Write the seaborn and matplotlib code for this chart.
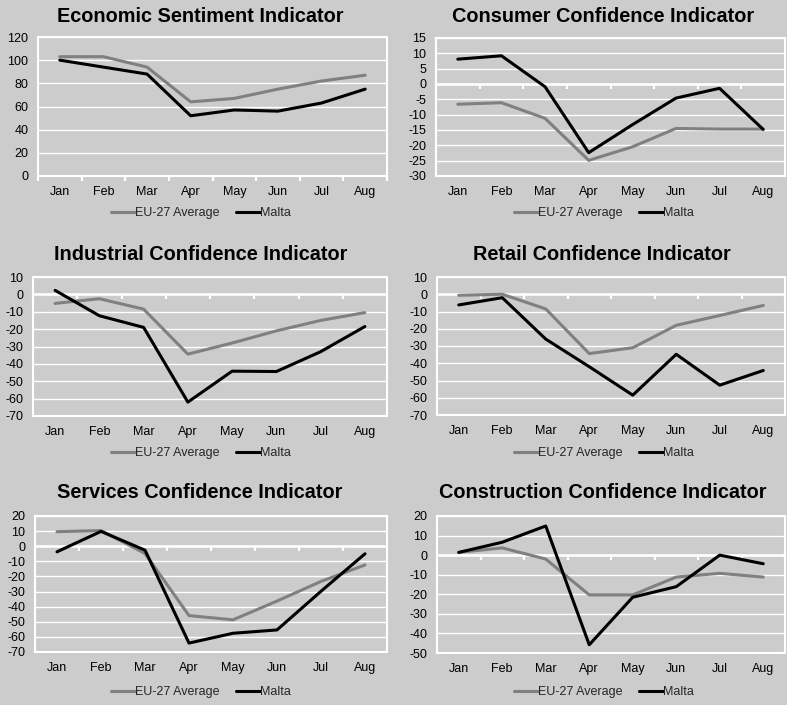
import numpy as np
import pandas as pd
import matplotlib
matplotlib.use("Agg")
import matplotlib.pyplot as plt
from matplotlib.path import Path
import seaborn as sns

sns.set_theme(style="white")
plt.rcParams['font.family'] = ['Liberation Sans', 'DejaVu Sans']

months = ["Jan", "Feb", "Mar", "Apr", "May", "Jun", "Jul", "Aug"]
series_names = ["EU-27 Average", "Malta"]

esi_eu = [103, 103, 94, 64, 67, 75, 82, 87]
esi_mt = [100, 94, 88, 52, 57, 56, 63, 75]
cons_eu = [-6.6, -6.1, -11.2, -24.9, -20.5, -14.5, -14.7, -14.7]
cons_mt = [8.1, 9.2, -0.9, -22.4, -13.3, -4.6, -1.4, -14.8]
ind_eu = [-5.2, -2.5, -8.5, -34.4, -28.0, -21.0, -15.0, -10.5]
ind_mt = [2.3, -12.3, -19.0, -62.0, -44.2, -44.4, -33.0, -18.5]
ret_eu = [-0.6, 0.0, -8.5, -34.4, -31.0, -18.0, -12.3, -6.5]
ret_mt = [-6.2, -2.0, -26.0, -42.0, -58.5, -34.8, -52.7, -44.2]
serv_eu = [9.6, 10.4, -4.8, -45.9, -48.7, -36.3, -23.3, -12.4]
serv_mt = [-3.7, 9.8, -2.6, -64.1, -57.6, -55.4, -29.8, -5.0]
con_eu = [1.4, 3.7, -2.0, -20.3, -20.3, -11.2, -9.3, -11.2]
con_mt = [1.4, 6.6, 14.9, -45.8, -21.5, -16.1, 0.0, -4.4]

titles = ["Economic Sentiment Indicator", "Consumer Confidence Indicator",
          "Industrial Confidence Indicator", "Retail Confidence Indicator",
          "Services Confidence Indicator", "Construction Confidence Indicator"]
data = [(esi_eu, esi_mt), (cons_eu, cons_mt), (ind_eu, ind_mt),
        (ret_eu, ret_mt), (serv_eu, serv_mt), (con_eu, con_mt)]
yranges = [(0, 120, 20), (-30, 15, 5), (-70, 10, 10),
           (-70, 10, 10), (-70, 20, 10), (-50, 20, 10)]

W, H = 787, 705
BG = "#cccccc"
fig = plt.figure(figsize=(W / 100, H / 100), dpi=100, facecolor=BG)

# pixel boxes: (left, right, top, bottom)
boxes = [(38, 387, 37, 176), (436, 785, 38, 176),
         (33, 387, 277, 416), (437, 785, 277, 415),
         (35, 387, 516, 652), (437, 785, 516, 653)]
title_pos = [(200, 16), (603, 16), (201, 254), (602, 254), (200, 493), (603, 493)]
legend_pos = [(201, 213), (604, 213), (201, 453), (604, 453), (201, 692), (604, 692)]

palette = {"EU-27 Average": "#808080", "Malta": "#000000"}
FS = 9
down_tick = Path([(0, 0), (0, -1)], [Path.MOVETO, Path.LINETO])

for i in range(6):
    l, r, t, b = boxes[i]
    ax = fig.add_axes([l / W, 1 - b / H, (r - l) / W, (b - t) / H])
    ax.set_facecolor(BG)
    eu, mt = data[i]
    df = pd.DataFrame({
        "x": list(np.arange(len(months))) * 2,
        "value": list(eu) + list(mt),
        "series": [series_names[0]] * len(months) + [series_names[1]] * len(months),
    })
    ymin, ymax, step = yranges[i]
    ax.grid(axis="y", color="white", linewidth=1.0)
    ax.set_axisbelow(True)
    # horizontal category axis crossing at zero, with boundary tick marks
    ax.axhline(0, color="white", linewidth=1.8, zorder=1)
    sns.scatterplot(x=np.arange(len(months) + 1) - 0.5,
                    y=np.zeros(len(months) + 1), marker=down_tick, s=45,
                    facecolor="none", edgecolor="white", linewidth=1.6,
                    ax=ax, zorder=1, legend=False, clip_on=False)
    sns.lineplot(data=df, x="x", y="value", hue="series", palette=palette,
                 ax=ax, linewidth=2.2, legend=False, sort=False, zorder=3)
    ax.set_ylim(ymin, ymax)
    ax.set_xlim(-0.5, len(months) - 0.5)
    yt = np.arange(ymin, ymax + 0.001, step)
    ax.set_yticks(yt)
    ax.set_yticklabels([f"{v:g}" for v in yt], fontsize=FS, color="black")
    ax.set_xticks(np.arange(len(months)))
    ax.set_xticklabels(months, fontsize=FS, color="black")
    ax.tick_params(axis="x", length=0, pad=7)
    ax.tick_params(axis="y", length=0, pad=7)
    ax.set_xlabel("")
    ax.set_ylabel("")
    for s in ax.spines.values():
        s.set_visible(True)
        s.set_color("white")
        s.set_linewidth(1.5)

    tx, ty = title_pos[i]
    fig.text(tx / W, 1 - ty / H, titles[i], ha="center", va="center",
             fontsize=14.3, fontweight="bold", color="black")

    handles = [plt.Line2D([], [], color=palette[n], linewidth=2.2) for n in series_names]
    lx, ly = legend_pos[i]
    fig.legend(handles, series_names, loc="center",
               bbox_to_anchor=(lx / W, 1 - ly / H), ncol=2, frameon=False,
               fontsize=FS, handlelength=1.9, handletextpad=0.05,
               columnspacing=1.3)

fig.savefig("out.png", dpi=100, facecolor=BG)
